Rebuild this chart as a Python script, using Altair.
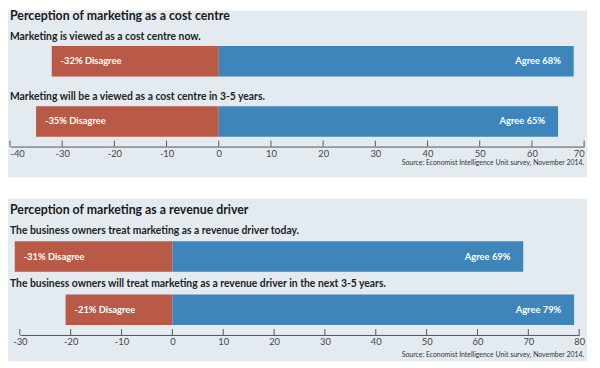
import altair as alt
import pandas as pd

# ---------------- data ----------------
p1_title = "Perception of marketing as a cost centre"
p1_questions = [
    "Marketing is viewed as a cost centre now.",
    "Marketing will be a viewed as a cost centre in 3-5 years.",
]
p1_disagree = [-32, -35]
p1_agree = [68, 65]
p1_ticks = [-40, -30, -20, -10, 0, 10, 20, 30, 40, 50, 60, 70]

p2_title = "Perception of marketing as a revenue driver"
p2_questions = [
    "The business owners treat marketing as a revenue driver today.",
    "The business owners will treat marketing as a revenue driver in the next 3-5 years.",
]
p2_disagree = [-31, -21]
p2_agree = [69, 79]
p2_ticks = [-30, -20, -10, 0, 10, 20, 30, 40, 50, 60, 70, 80]

source_text = "Source: Economist Intelligence Unit survey, November 2014."

# ---------------- style ----------------
RED = "#b85a46"
BLUE = "#3d85ba"
BG = "#e3ebf1"
FONT = "Lato"


def panel(title, questions, dis, agr, ticks, xrange, yrange, pad_inner,
          axis_y, bg_y, title_y, source_y, sub_dy, flush):
    df = pd.DataFrame({
        "q": questions,
        "dis": dis,
        "agr": agr,
        "zero": [0] * len(questions),
        "dis_label": [f"{d}% Disagree" for d in dis],
        "agr_label": [f"Agree {a}%" for a in agr],
    })
    tdf = pd.DataFrame({"t": ticks})
    xs = alt.Scale(domain=[ticks[0], ticks[-1]], range=xrange, nice=False, zero=False)
    ys = alt.Scale(domain=questions, range=yrange, paddingInner=pad_inner, paddingOuter=0)
    ax = alt.Axis(orient="bottom", offset=axis_y - 360, values=ticks, ticks=False,
                  grid=False, title=None, domainColor="#555555", domainWidth=1,
                  labelFont=FONT, labelFontSize=9.5, labelColor="#444444",
                  labelPadding=2, labelFlush=flush, zindex=1,
                  labelExpr="toString(datum.value)")
    Y = alt.Y("q:N", scale=ys, axis=None, sort=questions)
    one = pd.DataFrame({"a": [0]})

    bg = alt.Chart(one).mark_rect(color=BG).encode(
        x=alt.value(0), x2=alt.value(587), y=alt.value(bg_y[0]), y2=alt.value(bg_y[1]))
    ttl = alt.Chart(one).mark_text(
        text=title, align="left", baseline="middle", font=FONT, fontSize=12.5,
        fontWeight="bold", color="#1a1a1a").encode(x=alt.value(2), y=alt.value(title_y))
    src = alt.Chart(one).mark_text(
        text=source_text, align="right", baseline="middle", font=FONT, fontSize=7,
        color="#333333").encode(x=alt.value(584), y=alt.value(source_y))
    red = alt.Chart(df).mark_bar(color=RED).encode(
        x=alt.X("dis:Q", scale=xs, axis=ax), x2="zero", y=Y)
    blue = alt.Chart(df).mark_bar(color=BLUE).encode(
        x=alt.X("zero:Q", scale=xs, axis=ax), x2="agr", y=Y)
    ticks_l = alt.Chart(tdf).mark_rule(color="#555555", strokeWidth=1).encode(
        x=alt.X("t:Q", scale=xs, axis=ax), y=alt.value(axis_y - 6), y2=alt.value(axis_y))
    sub = alt.Chart(df).mark_text(
        align="left", baseline="middle", font=FONT, fontSize=10.5, fontWeight="bold",
        color="#222222", dy=sub_dy).encode(x=alt.value(2), y=Y, text="q:N")
    dl = alt.Chart(df).mark_text(
        align="left", baseline="middle", font=FONT, fontSize=9.5, fontWeight="bold",
        color="white", dx=9).encode(x=alt.X("dis:Q", scale=xs, axis=ax), y=Y, text="dis_label:N")
    al = alt.Chart(df).mark_text(
        align="right", baseline="middle", font=FONT, fontSize=9.5, fontWeight="bold",
        color="white", dx=-13).encode(x=alt.X("agr:Q", scale=xs, axis=ax), y=Y, text="agr_label:N")
    return alt.layer(bg, red, blue, ticks_l, ttl, sub, dl, al, src)


panel1 = panel(p1_title, p1_questions, p1_disagree, p1_agree, p1_ticks,
               xrange=[2, 584], yrange=[36, 128], pad_inner=0.492,
               axis_y=138, bg_y=(0, 169), title_y=6, source_y=155, sub_dy=-24.5,
               flush=True)
panel2 = panel(p2_title, p2_questions, p2_disagree, p2_agree, p2_ticks,
               xrange=[12, 579], yrange=[234, 319], pad_inner=0.426,
               axis_y=329, bg_y=(191, 356), title_y=202, source_y=349, sub_dy=-26,
               flush=False)

chart = alt.layer(panel1, panel2).resolve_scale(
    x="independent", y="independent"
).resolve_axis(x="independent").properties(
    width=592, height=360, padding=0,
    autosize=alt.AutoSizeParams(type="none"),
).configure_view(stroke=None)

chart.save("out.html", embed_options={"renderer": "svg", "actions": False})
